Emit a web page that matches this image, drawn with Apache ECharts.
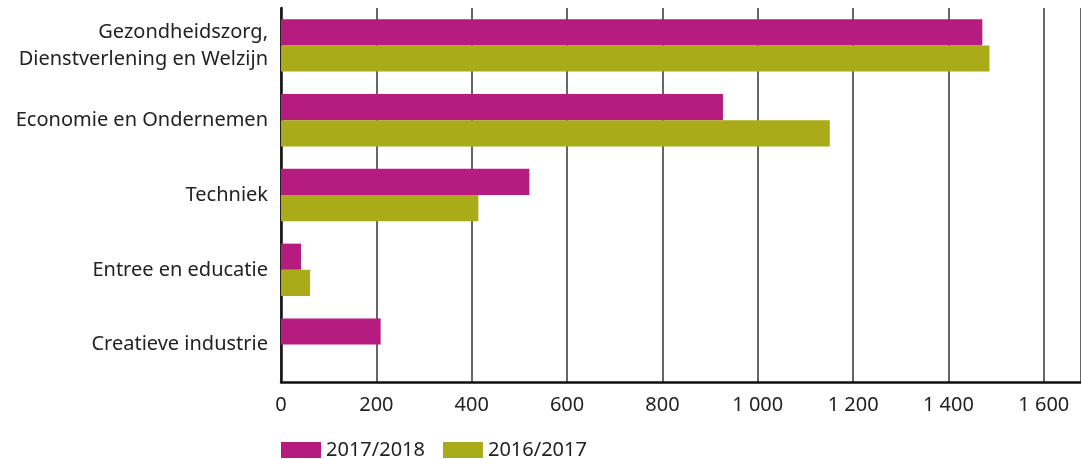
<!DOCTYPE html>
<html>
<head>
<meta charset="utf-8">
<script src="https://cdn.jsdelivr.net/npm/echarts@6/dist/echarts.min.js"></script>
<style>
  html, body { margin: 0; padding: 0; background: #fff; }
  #chart { width: 1081px; height: 459px; }
</style>
</head>
<body>
<div id="chart"></div>
<script>
// categories, top to bottom
var categories = [
  'Gezondheidszorg,\nDienstverlening en Welzijn',
  'Economie en Ondernemen',
  'Techniek',
  'Entree en educatie',
  'Creatieve industrie'
];
var seriesNames = ['2017/2018', '2016/2017'];
var values2017 = [1471, 927, 521, 42, 209];
var values2016 = [1486, 1151, 414, 61, 0];
var tickValues = [0, 200, 400, 600, 800, 1000, 1200, 1400, 1600];

var myChart = echarts.init(document.getElementById('chart'));
var font = '"Noto Sans", sans-serif';

myChart.setOption({
  animation: false,
  textStyle: { fontFamily: font },
  grid: {
    left: 281,
    right: -2,
    top: 8,
    bottom: 77
  },
  legend: {
    left: 276,
    top: 435,
    itemWidth: 40,
    itemHeight: 16,
    itemGap: 18,
    icon: 'rect',
    textStyle: { fontSize: 20, color: '#222', fontFamily: font },
    data: seriesNames
  },
  xAxis: {
    type: 'value',
    min: 0,
    max: 1678,
    interval: 200,
    axisLine: { show: true, lineStyle: { color: '#111', width: 2.5 } },
    axisTick: { show: false },
    splitLine: { show: true, lineStyle: { color: '#333', width: 1.5 } },
    axisLabel: {
      color: '#222',
      fontSize: 20,
      margin: 13,
      showMaxLabel: false,
      formatter: function (v) {
        if (tickValues.indexOf(v) < 0) return '';
        return String(v).replace(/\B(?=(\d{3})+(?!\d))/g, ' ');
      }
    }
  },
  yAxis: {
    type: 'category',
    inverse: true,
    data: categories,
    axisLine: { show: true, lineStyle: { color: '#111', width: 2.5 } },
    axisTick: { show: false },
    axisLabel: {
      color: '#222',
      fontSize: 20,
      margin: 13,
      lineHeight: 27,
      align: 'right'
    }
  },
  series: [
    {
      name: seriesNames[0],
      type: 'bar',
      barGap: '0%',
      barCategoryGap: '30%',
      itemStyle: { color: '#b61b80' },
      data: values2017
    },
    {
      name: seriesNames[1],
      type: 'bar',
      itemStyle: { color: '#aaab19' },
      data: values2016
    }
  ]
});
</script>
</body>
</html>
